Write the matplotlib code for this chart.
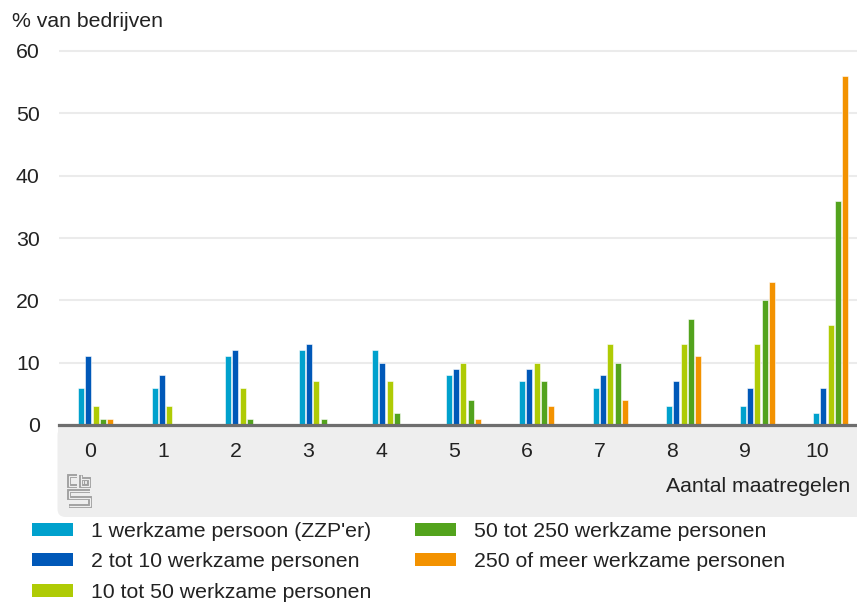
import numpy as np
import matplotlib.pyplot as plt
from matplotlib.patches import FancyBboxPatch, Rectangle
from matplotlib.lines import Line2D
from matplotlib.transforms import IdentityTransform
import matplotlib.patheffects as pe

plt.rcParams['font.family'] = ['Liberation Sans', 'DejaVu Sans']

# data
maatregelen = ['0', '1', '2', '3', '4', '5', '6', '7', '8', '9', '10']
series = ["1 werkzame persoon (ZZP'er)",
          '2 tot 10 werkzame personen',
          '10 tot 50 werkzame personen',
          '50 tot 250 werkzame personen',
          '250 of meer werkzame personen']
zzp = [6, 6, 11, 12, 12, 8, 7, 6, 3, 3, 2]
klein = [11, 8, 12, 13, 10, 9, 9, 8, 7, 6, 6]
middel = [3, 3, 6, 7, 7, 10, 10, 13, 13, 13, 16]
groot = [1, 0, 1, 1, 2, 4, 7, 10, 17, 20, 36]
zeergroot = [1, 0, 0, 0, 0, 1, 3, 4, 11, 23, 56]
colors = ['#00a1cd', '#0058b8', '#afcb05', '#53a31d', '#f39200']

W, H = 857, 604
fig = plt.figure(figsize=(W / 100, H / 100), dpi=100)
txt = '#222222'
fs = 15.3

# axes placed in pixel terms of the reference
ax_left, ax_right, ax_bottom, ax_top = 59, 857, 425, 48
ax = fig.add_axes([ax_left / W, (H - ax_bottom) / H,
                   (ax_right - ax_left) / W, (ax_bottom - ax_top) / H])

x = np.arange(len(maatregelen))
values = [zzp, klein, middel, groot, zeergroot]
step = 0.1
for k, vals in enumerate(values):
    ax.bar(x + (k - 2) * step, vals, width=0.082, color=colors[k],
           edgecolor='white', linewidth=0.4, zorder=3)

ax.set_xlim(-0.5, 10.357)
ax.set_ylim(0, 60 * (ax_bottom - ax_top) / (ax_bottom - 51))
ax.set_yticks(np.arange(0, 61, 10))
# category labels sit a little left of the bar groups
ax.set_xticks(x * 0.99 - 0.078)
ax.set_xticklabels(maatregelen)
ax.tick_params(axis='both', length=0, labelsize=fs, colors=txt)
ax.tick_params(axis='y', pad=14)
ax.tick_params(axis='x', pad=12.5)
ax.grid(axis='y', color='#ebebeb', linewidth=1.5, zorder=0)
for s in ax.spines.values():
    s.set_visible(False)
ax.axhline(0, color='#6e6e6e', linewidth=2.3, zorder=5, clip_on=False)

# grey footer band with rounded lower-left corner
ident = IdentityTransform()
bx0, bx1, by0, by1 = 57.5, 870, 427, 517
fig.patches.append(FancyBboxPatch((bx0, H - by1), bx1 - bx0, by1 - by0,
                                  boxstyle='round,pad=0,rounding_size=8',
                                  transform=ident, facecolor='#eeeeee',
                                  edgecolor='none', zorder=-5))
fig.patches.append(Rectangle((bx0, H - by0 - 15), bx1 - bx0, 15,
                             transform=ident, facecolor='#eeeeee',
                             edgecolor='none', zorder=-5))

# cbs logo, drawn as hollow strokes
logo = [[(77, 476), (68.5, 476), (68.5, 485.5), (77, 485.5)],
        [(80.5, 474.5), (80.5, 485.5), (89, 485.5), (89, 479), (80.5, 479)],
        [(89.5, 491), (68.5, 491), (68.5, 498), (89.5, 498), (89.5, 505.5),
         (68.5, 505.5)]]
for pts in logo:
    xs = [p[0] for p in pts]
    ys = [H - p[1] for p in pts]
    ln = Line2D(xs, ys, transform=ident, color='#eeeeee', linewidth=0.8,
                solid_joinstyle='miter', solid_capstyle='butt',
                path_effects=[pe.Stroke(linewidth=2.8, foreground='#a0a0a0'),
                              pe.Normal()])
    fig.lines.append(ln)
fig.patches.append(Rectangle((84, H - 484), 3, 4, transform=ident,
                             facecolor='none', edgecolor='#a0a0a0',
                             linewidth=0.8))

fig.text(12 / W, (H - 27) / H, '% van bedrijven', fontsize=fs, color=txt,
         va='baseline', ha='left')
fig.text(850 / W, (H - 492) / H, 'Aantal maatregelen', fontsize=fs,
         color=txt, va='baseline', ha='right')

# legend in two columns
rows = [529.5, 559.5, 590]
pos = [(32, rows[0]), (32, rows[1]), (32, rows[2]),
       (415, rows[0]), (415, rows[1])]
for k, name in enumerate(series):
    px, py = pos[k]
    fig.patches.append(Rectangle((px, H - py - 6.5), 41, 13, transform=ident,
                                 facecolor=colors[k], edgecolor='none'))
    fig.text((px + 59) / W, (H - py) / H, name, fontsize=fs, color=txt,
             va='center_baseline', ha='left')

fig.savefig('out.png', dpi=100)
